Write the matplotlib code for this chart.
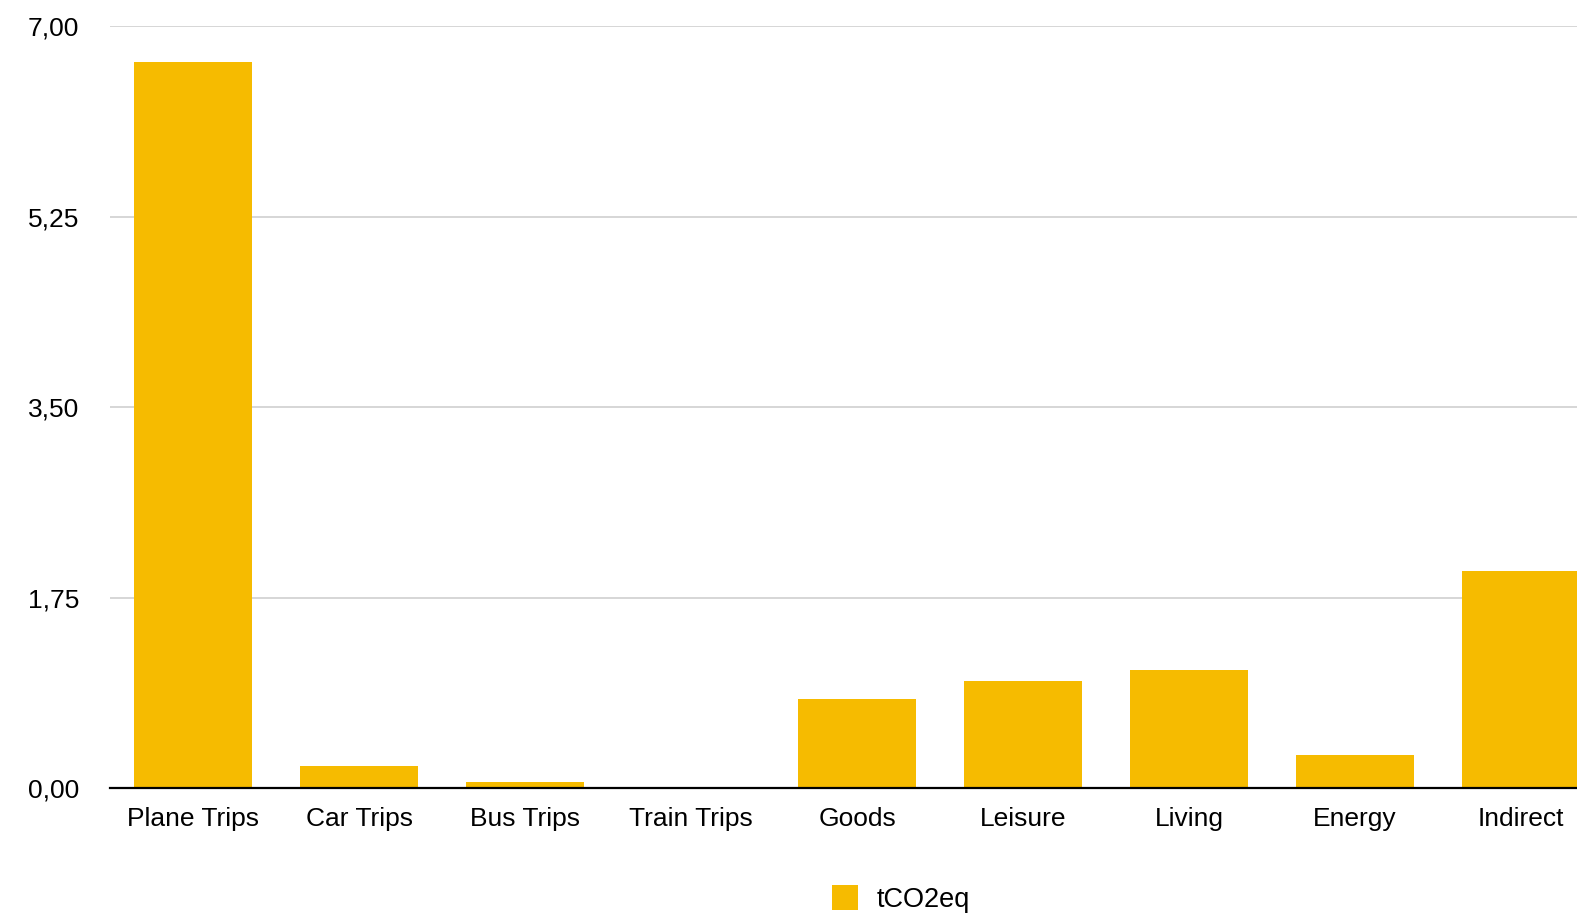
import matplotlib
matplotlib.use("Agg")
import matplotlib.pyplot as plt
from matplotlib.patches import Patch

categories = ["Plane Trips", "Car Trips", "Bus Trips", "Train Trips", "Goods",
              "Leisure", "Living", "Energy", "Indirect"]
values = [6.67, 0.20, 0.055, 0.0, 0.815, 0.98, 1.08, 0.30, 1.99]
yticks = [0.0, 1.75, 3.5, 5.25, 7.0]
ytick_labels = ["0,00", "1,75", "3,50", "5,25", "7,00"]
series_name = "tCO2eq"

plt.rcParams['font.family'] = ['Liberation Sans', 'DejaVu Sans']

W, H = 1577, 921
fig = plt.figure(figsize=(W / 100, H / 100), dpi=100)
ax = fig.add_axes([110 / W, (H - 788) / H, 1 - 110 / W, (788 - 26) / H])

color = "#F6BB00"
x = list(range(len(categories)))
ax.bar(x, values, width=0.71, color=color, zorder=2)

ax.set_xlim(-0.5, 8.337)
ax.set_ylim(0, 7)
ax.set_yticks(yticks)
ax.set_yticklabels(ytick_labels)
ax.set_xticks(x)
ax.set_xticklabels(categories)
ax.tick_params(axis='both', length=0, labelsize=19, colors='black')
ax.tick_params(axis='y', pad=22)
ax.tick_params(axis='x', pad=14)

ax.grid(axis='y', color='#cccccc', linewidth=1.1)
ax.set_axisbelow(True)
for s in ['top', 'right', 'left']:
    ax.spines[s].set_visible(False)
ax.spines['bottom'].set_color('black')
ax.spines['bottom'].set_linewidth(1.6)
ax.spines['bottom'].set_zorder(3)

handle = Patch(facecolor=color, edgecolor='none')
fig.legend([handle], [series_name], loc='center', bbox_to_anchor=(901 / W, (H - 899) / H),
           frameon=False, fontsize=19.5, handlelength=0.95, handleheight=1.0,
           handletextpad=0.7)

fig.savefig("out.png", dpi=100)
